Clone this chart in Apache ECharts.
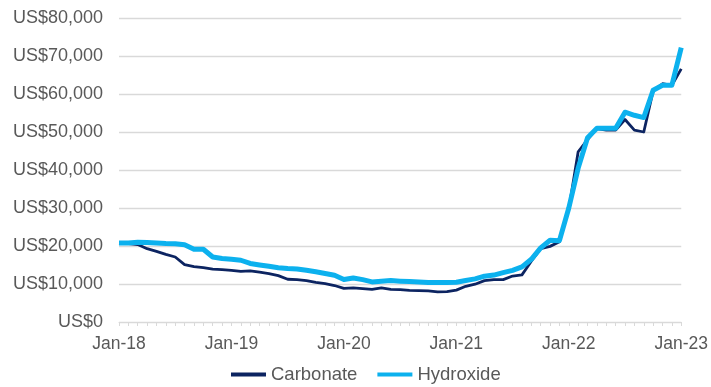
<!DOCTYPE html>
<html>
<head>
<meta charset="utf-8">
<title>Lithium prices</title>
<script src="https://cdn.jsdelivr.net/npm/echarts@6/dist/echarts.min.js"></script>
<style>
  html, body { margin: 0; padding: 0; background: #ffffff; }
  #chart { width: 711px; height: 387px; }
</style>
</head>
<body>
<div id="chart"></div>
<script>
// Monthly prices, Jan-18 to Jan-23 (US$ per tonne)
const monthNames = ['Jan','Feb','Mar','Apr','May','Jun','Jul','Aug','Sep','Oct','Nov','Dec'];
const yearSuffixes = ['18','19','20','21','22','23'];

const carbonate = [
  20700, 20600, 20400, 19300, 18600, 17800, 17100, 15100, 14600, 14300, 13900, 13800,
  13600, 13300, 13450, 13100, 12750, 12200, 11250, 11150, 10900, 10400, 10100, 9600,
  8850, 9000, 8800, 8600, 9000, 8600, 8500, 8300, 8250, 8200, 7950, 8000,
  8400, 9400, 9950, 10900, 11150, 11150, 12100, 12400, 16000, 19300, 19900, 21100,
  29700, 44800, 48000, 50900, 50500, 50500, 53300, 50500, 50000, 60800, 62700, 62300,
  66600
];

const hydroxide = [
  20800, 20800, 21000, 20900, 20800, 20650, 20600, 20350, 19150, 19150, 17100, 16700,
  16500, 16250, 15400, 15000, 14650, 14300, 14050, 13950, 13600, 13200, 12750, 12300,
  11200, 11600, 11150, 10550, 10700, 10900, 10750, 10650, 10500, 10400, 10400, 10400,
  10450, 10900, 11350, 12050, 12350, 13000, 13600, 14500, 16500, 19500, 21500, 21400,
  30000, 40500, 48500, 51000, 51000, 51000, 55200, 54400, 53800, 61000, 62300, 62300,
  72200
];

const yMin = 0;
const yMax = 80000;
const yStep = 10000;

// Category labels "Jan-18" ... "Jan-23"
const categories = [];
yearSuffixes.forEach(function (yy, yi) {
  monthNames.forEach(function (m, mi) {
    if (yi === yearSuffixes.length - 1 && mi > 0) return;
    categories.push(m + '-' + yy);
  });
});

const textColor = '#595959';
const gridColor = '#d9d9d9';
const fontFamily = '"Liberation Sans", Arial, sans-serif';

const chart = echarts.init(document.getElementById('chart'), null, { renderer: 'canvas' });

chart.setOption({
  animation: false,
  backgroundColor: '#ffffff',
  grid: { left: 119, right: 28, top: 18, bottom: 65, containLabel: false },
  xAxis: {
    type: 'category',
    data: categories,
    boundaryGap: false,
    axisLine: { show: true, lineStyle: { color: gridColor, width: 1 } },
    axisTick: { show: true, interval: 0, length: 4, lineStyle: { color: gridColor, width: 1 } },
    axisLabel: {
      interval: function (index) { return index % 12 === 0; },
      color: textColor,
      fontFamily: fontFamily,
      fontSize: 17.5,
      margin: 13
    },
    splitLine: { show: false }
  },
  yAxis: {
    type: 'value',
    min: yMin,
    max: yMax,
    interval: yStep,
    axisLine: { show: false },
    axisTick: { show: false },
    axisLabel: {
      color: textColor,
      fontFamily: fontFamily,
      fontSize: 18,
      margin: 16,
      formatter: function (v) { return 'US$' + v.toLocaleString('en-US'); }
    },
    splitLine: { show: true, lineStyle: { color: gridColor, width: 1.3 } }
  },
  legend: {
    top: 365,
    left: 231,
    padding: 0,
    itemWidth: 35,
    itemHeight: 4,
    itemGap: 20,
    icon: 'rect',
    textStyle: { color: textColor, fontFamily: fontFamily, fontSize: 18.5 },
    data: ['Carbonate', 'Hydroxide']
  },
  series: [
    {
      name: 'Carbonate',
      type: 'line',
      data: carbonate,
      showSymbol: false,
      symbol: 'none',
      color: '#0c2461',
      lineStyle: { color: '#0c2461', width: 2.8, join: 'round' },
      z: 2
    },
    {
      name: 'Hydroxide',
      type: 'line',
      data: hydroxide,
      showSymbol: false,
      symbol: 'none',
      color: '#0cb1ee',
      lineStyle: { color: '#0cb1ee', width: 5, join: 'round' },
      z: 3
    }
  ]
});
</script>
</body>
</html>
